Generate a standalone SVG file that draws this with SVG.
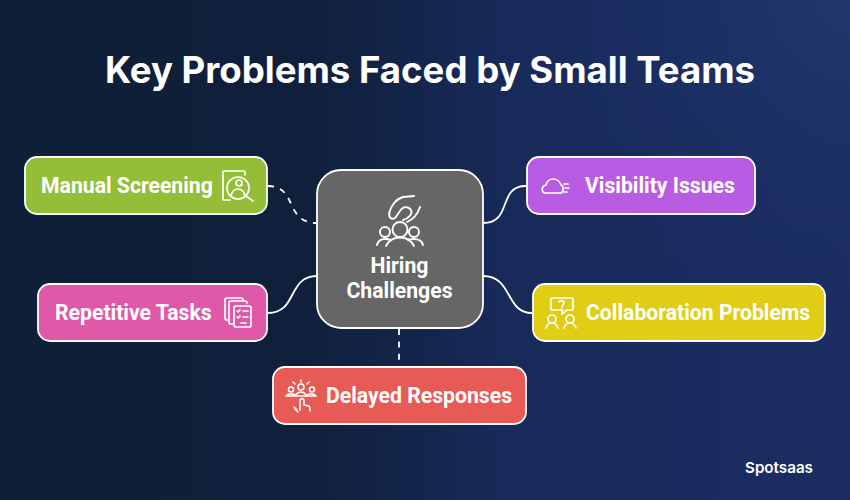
<svg xmlns="http://www.w3.org/2000/svg" width="850" height="500" viewBox="0 0 850 500">
<defs>
<linearGradient id="bg" x1="0" y1="0" x2="1" y2="0"><stop offset="0" stop-color="#0f1f38"/><stop offset="0.36" stop-color="#10203c"/><stop offset="0.6" stop-color="#182a5a"/><stop offset="1" stop-color="#1b2d62"/></linearGradient>
<radialGradient id="glow" gradientUnits="userSpaceOnUse" cx="850" cy="0" r="360"><stop offset="0" stop-color="#223a72" stop-opacity="0.8"/><stop offset="1" stop-color="#1a2c62" stop-opacity="0"/></radialGradient>
</defs>
<style>
.box{stroke:#fff;stroke-width:1.8}
.lbl{font-family:Roboto,"Liberation Sans",sans-serif;font-weight:700;font-size:21.2px;fill:#fff}
.ico{fill:none;stroke:#fff;stroke-width:1.7;stroke-linecap:round;stroke-linejoin:round}
.con{fill:none;stroke:#fff;stroke-width:1.8}
.dash{stroke-dasharray:6 6.4}
</style>
<rect width="850" height="500" fill="url(#bg)"/>
<rect width="850" height="500" fill="url(#glow)"/>
<text x="430" y="83" text-anchor="middle" font-family="Inter,'Liberation Sans',sans-serif" font-weight="700" font-size="36.600" fill="#fff">Key Problems Faced by Small Teams</text>
<g id="connectors">
<path class="con dash" d="M268 186C298 186 284 223 317 223"/>
<path class="con" d="M268 313C298 313 287 276 317 276"/>
<path class="con" d="M483 223C513 223 497 186 526 186"/>
<path class="con" d="M483 276C513 276 505 313 532 313"/>
<path class="con dash" d="M399 329V366"/>
</g>
<g id="node-center">
<rect class="box" x="317" y="170" width="166" height="158" rx="24" fill="#666666"/>
<g class="ico" style="stroke-width:1.9">
<path d="M414 196L403 197C396 199 391 206 389.500 212C388 218 392 220 395 218L400 211C403 206 408 206 411 210C413 214 408 219 403 220M420 207C418 213 414 219 407 222"/>
<circle cx="400" cy="229.500" r="7.500"/><circle cx="385" cy="232" r="5"/><circle cx="414" cy="232" r="5"/>
<path d="M386 246C389 240 395 237.500 400 237.500C405 237.500 411 240 414 246M377 245C378 241 381 239 385 239C387 239 389 239 391 240M423 245C422 241 419 239 414 239C412 239 410 239 408 240"/>
</g>
<text class="lbl" x="399.500" y="273" text-anchor="middle">Hiring</text>
<text class="lbl" x="399.500" y="298" text-anchor="middle">Challenges</text>
</g>
<g id="node-manual">
<rect class="box" x="25" y="157" width="242" height="57" rx="12" fill="#94bd38"/>
<text class="lbl" x="41" y="193">Manual Screening</text>
<g class="ico">
<path d="M245 175V172C245 171 245 171 244 171H224C223 171 223 171 223 172V199C223 200 223 200 224 200H230"/>
<circle cx="238" cy="188" r="11"/><circle cx="239" cy="183" r="3"/>
<path d="M231 196C232 191 235 189 238 189C241 189 244 191 245 196M246 196L253 201"/>
</g>
</g>
<g id="node-repetitive">
<rect class="box" x="38" y="284" width="229" height="57" rx="12" fill="#df59a8"/>
<text class="lbl" x="55" y="320">Repetitive Tasks</text>
<g class="ico">
<path d="M229 320H227C226 320 225 319 225 318V300C225 299 226 298 227 298H241C242 298 243 299 243 300"/>
<path d="M233 324H231C230 324 229 323 229 322V303C229 302 230 301 231 301H245C246 301 247 302 247 303"/>
<rect x="234" y="306" width="17" height="21" rx="2"/>
<path d="M237 311L238 312L240 310M243 311H248M237 317L238 318L240 316M243 317H248M241 323H246"/>
</g>
</g>
<g id="node-visibility">
<rect class="box" x="527" y="157" width="228" height="57" rx="12" fill="#b95ce4"/>
<text class="lbl" x="585" y="193">Visibility Issues</text>
<g class="ico">
<path d="M547 193H546C541 193 541 186 546 185C547 181 550 179 553 179C557 179 560 182 561 185C564 186 564 193 560 193Z"/>
<path d="M564 184H568M565 188H569M564 192H567"/>
</g>
</g>
<g id="node-collaboration">
<rect class="box" x="533" y="284" width="292" height="57" rx="12" fill="#e0cd14"/>
<text class="lbl" x="586" y="320">Collaboration Problems</text>
<g class="ico">
<path d="M553 310H552C551 310 551 309 551 309V299C551 298 551 298 552 298H572C573 298 573 298 573 299V309C573 310 573 310 572 310H567L562 314V310Z"/>
<path d="M559 302C560 300 564 300 564 303C564 305 562 305 562 307M562 309V309.500"/>
<circle cx="552" cy="319" r="4"/><circle cx="570" cy="319" r="4"/>
<path d="M546 328C547 324 550 323 552 323C555 323 557 325 558 328M564 328C565 324 568 323 570 323C573 323 575 325 576 328"/>
</g>
</g>
<g id="node-delayed">
<rect class="box" x="273" y="367" width="253" height="57" rx="12" fill="#e85a55"/>
<text class="lbl" x="326" y="403">Delayed Responses</text>
<g class="ico" style="stroke-width:1.6">
<circle cx="301" cy="387" r="3"/><circle cx="291" cy="389.500" r="2.500"/><circle cx="312" cy="389.500" r="2.500"/>
<path d="M296 395C298 391 304 391 306 395M286 396C288 393 294 393 296 396M306 396C308 393 314 393 316 396M286 396H316"/>
<path d="M301 382V380M295 384L293 382M307 384L309 382"/>
<path d="M300 410V401C300 398 304 398 304 401V405L309 406C310 407 310 408 310 411M297 410L294 407M298 412L295 409"/>
</g>
</g>
<text x="745" y="473" font-family="Inter,'Liberation Sans',sans-serif" font-weight="600" font-size="15.200" fill="#fff">Spotsaas</text>
</svg>
